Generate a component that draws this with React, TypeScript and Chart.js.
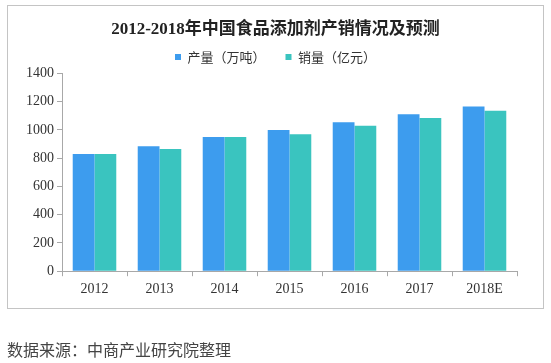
import React, { useEffect, useRef } from "react";
import { Chart, registerables } from "chart.js";

Chart.register(...registerables);

const categories = ["2012", "2013", "2014", "2015", "2016", "2017", "2018E"];
const production = [830, 885, 950, 1000, 1055, 1110, 1165];
const sales = [830, 865, 950, 970, 1030, 1085, 1135];
const seriesNames = ["产量（万吨）", "销量（亿元）"];
const titleText = "2012-2018年中国食品添加剂产销情况及预测";
const sourceText = "数据来源：中商产业研究院整理";

export default function App() {
  const ref = useRef<HTMLCanvasElement | null>(null);

  useEffect(() => {
    document.body.style.margin = "0";
    const ctx = ref.current!;
    const chart = new Chart(ctx, {
      type: "bar",
      data: {
        labels: categories,
        datasets: [
          {
            label: seriesNames[0],
            data: production,
            backgroundColor: "#3d9cee",
            categoryPercentage: 0.67,
            barPercentage: 1.0,
          },
          {
            label: seriesNames[1],
            data: sales,
            backgroundColor: "#3ac4bf",
            categoryPercentage: 0.67,
            barPercentage: 1.0,
          },
        ],
      },
      options: {
        responsive: false,
        animation: false,
        layout: { padding: { top: 5, left: 0, right: 0, bottom: 60 } },
        plugins: {
          title: {
            display: true,
            text: titleText,
            color: "#222",
            font: { family: "'Liberation Serif', 'Noto Sans CJK SC'", size: 17, weight: "bold", lineHeight: 1.2 },
            padding: { top: 14, bottom: -9 },
          },
          legend: {
            display: true,
            labels: {
              color: "#333",
              boxWidth: 6,
              boxHeight: 6,
              padding: 20,
              font: { family: "'Noto Sans CJK SC'", size: 13 },
            },
          },
          tooltip: { enabled: false },
        },
        scales: {
          x: {
            grid: {
              display: true,
              drawOnChartArea: false,
              drawTicks: true,
              tickLength: 5,
              color: "#a8a8a8",
            },
            border: { display: true, color: "#a8a8a8" },
            ticks: {
              color: "#333",
              padding: 5,
              font: { family: "'Liberation Serif'", size: 14 },
            },
          },
          y: {
            min: 0,
            max: 1400,
            afterFit: (scale: any) => {
              scale.width = 62;
            },
            grid: {
              display: true,
              drawOnChartArea: false,
              drawTicks: true,
              tickLength: 5,
              color: "#a8a8a8",
            },
            border: { display: true, color: "#a8a8a8" },
            ticks: {
              stepSize: 200,
              color: "#333",
              padding: 3,
              font: { family: "'Liberation Serif'", size: 14 },
              callback: (v: any) => String(v),
            },
          },
          yR: {
            type: "linear",
            position: "right",
            display: true,
            min: 0,
            max: 1400,
            afterFit: (scale: any) => {
              scale.width = 34;
            },
            grid: { display: false },
            border: { display: false },
            ticks: { display: false },
          },
        },
      },
    });
    return () => chart.destroy();
  }, []);

  return (
    <div style={{ position: "relative", width: 551, height: 363, background: "#fff" }}>
      <canvas ref={ref} width={551} height={363} style={{ position: "absolute", left: 0, top: 0 }} />
      <div
        style={{
          position: "absolute",
          left: 7,
          top: 5,
          width: 535,
          height: 302,
          border: "1px solid #c4c4c4",
          pointerEvents: "none",
        }}
      />
      <div
        style={{
          position: "absolute",
          left: 7,
          top: 339,
          fontFamily: "'Noto Sans CJK SC'",
          fontSize: 16,
          lineHeight: "20px",
          color: "#444",
        }}
      >
        {sourceText}
      </div>
    </div>
  );
}
